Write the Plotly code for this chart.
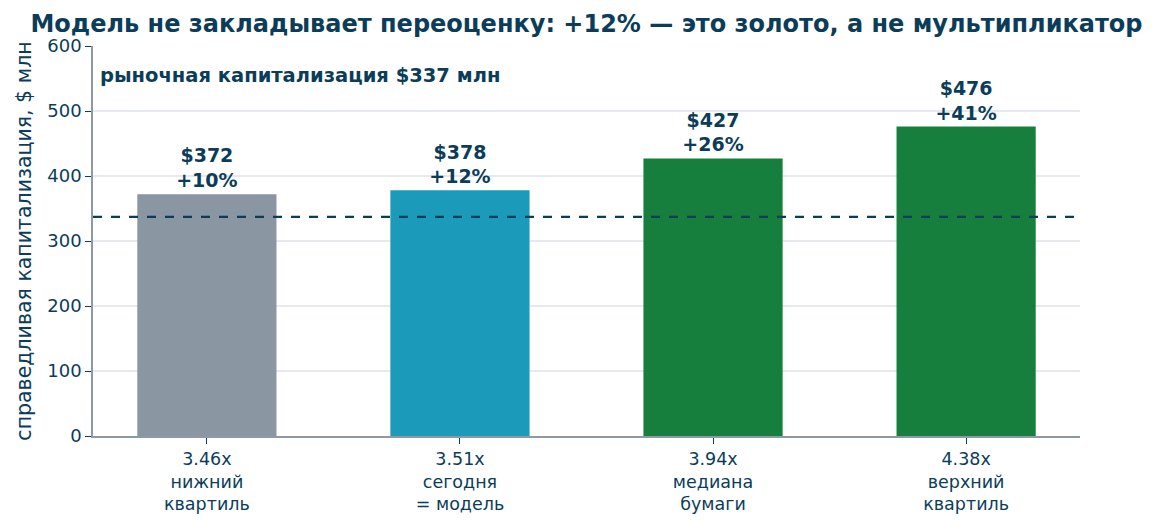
import plotly.graph_objects as go

# данные
multiples = ["3.46x", "3.51x", "3.94x", "4.38x"]
scenarios = ["нижний<br>квартиль", "сегодня<br>= модель", "медиана<br>бумаги", "верхний<br>квартиль"]
fair_cap = [372, 378, 427, 476]
upside = ["+10%", "+12%", "+26%", "+41%"]
market_cap = 337
bar_colors = ["#8a96a1", "#1b9bb9", "#177f3e", "#177f3e"]

navy = "#0b3d5a"
font = "DejaVu Sans"

tick_text = [m + "<br>" + s for m, s in zip(multiples, scenarios)]
labels = ["<b>$%d<br>%s</b>" % (v, u) for v, u in zip(fair_cap, upside)]
xs = list(range(len(fair_cap)))

fig = go.Figure()
fig.add_trace(go.Bar(
    x=xs, y=fair_cap, width=0.55,
    marker=dict(color=bar_colors, line=dict(width=0)),
    text=labels, textposition="outside", cliponaxis=False,
    textfont=dict(family=font, size=19, color=navy),
    hoverinfo="skip",
))

fig.add_hline(y=market_cap, line=dict(color=navy, width=2.2, dash="dash"))

fig.add_annotation(
    xref="paper", yref="y", x=0.005, y=554,
    text="<b>рыночная капитализация $%d млн</b>" % market_cap,
    showarrow=False, xanchor="left", yanchor="middle",
    font=dict(family=font, size=19.5, color=navy),
)

# страница сдвинута на 8px (отступ body), поэтому поля меньше
fig.update_layout(
    width=1157, height=525,
    margin=dict(l=85, r=85, t=38, b=97),
    plot_bgcolor="white", paper_bgcolor="white",
    showlegend=False,
    font=dict(family=font, color=navy, size=18),
    title=dict(
        text="<b>Модель не закладывает переоценку: +12% — это золото, а не мультипликатор</b>",
        x=0.5, xref="paper", y=0.971, yanchor="middle",
        font=dict(family=font, size=24, color=navy),
    ),
    xaxis=dict(
        range=[-0.45, 3.45], tickvals=xs, ticktext=tick_text,
        showline=True, linecolor="#8d99a6", linewidth=1.5,
        ticks="outside", ticklen=6, tickcolor=navy,
        showgrid=False, zeroline=False,
        tickfont=dict(family=font, size=17.5, color=navy),
    ),
    yaxis=dict(
        range=[0, 600], dtick=100,
        showline=True, linecolor="#8d99a6", linewidth=1.5,
        ticks="outside", ticklen=6, tickcolor=navy,
        showgrid=True, gridcolor="#e6e9ed", gridwidth=1.5,
        zeroline=False,
        tickfont=dict(family=font, size=18, color=navy),
        title=dict(text="справедливая капитализация, $ млн",
                   font=dict(family=font, size=20.5, color=navy), standoff=10),
    ),
)

fig.write_html("out.html")
